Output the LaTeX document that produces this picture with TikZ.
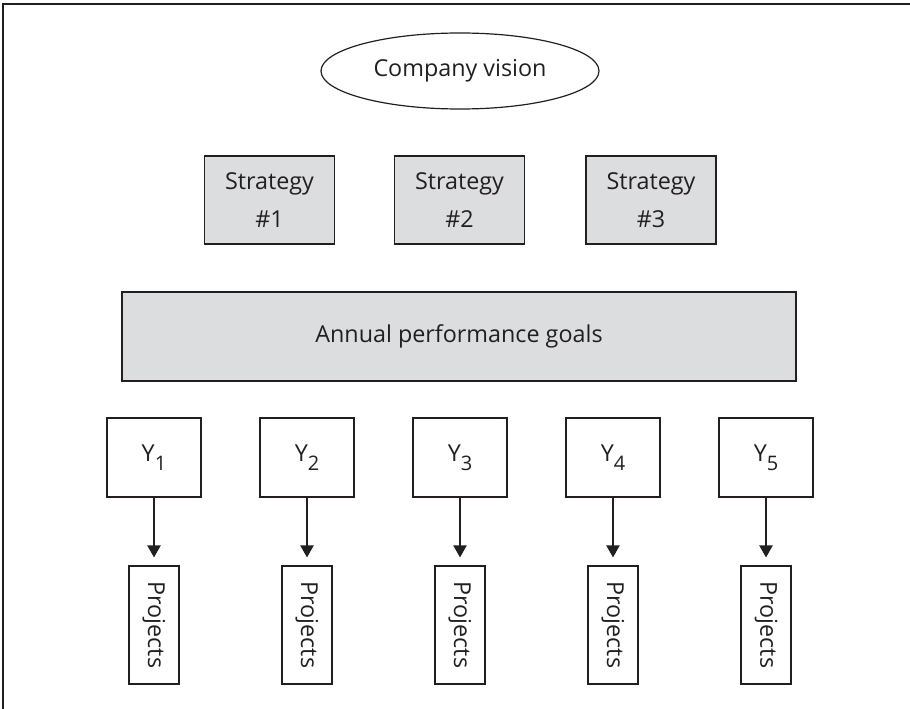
\documentclass[tikz,border=0pt]{standalone}
\usepackage{fontspec}
\setmainfont{Open Sans}
\usetikzlibrary{shapes.geometric,arrows.meta}
\definecolor{boxgray}{HTML}{DCDDDF}
\definecolor{ink}{HTML}{231F20}
\newcommand{\ysub}[1]{Y\raisebox{-6.5pt}{\fontsize{15}{16}\selectfont #1}}
\begin{document}
\begin{tikzpicture}[x=0.75pt,y=-0.75pt,
  font=\fontsize{17.5}{28}\selectfont, text=ink,
  base/.style={draw=ink, line width=0.9pt, inner sep=0pt, align=center},
  visionbox/.style={base, ellipse, minimum width=208.5pt, minimum height=57pt},
  stratbox/.style={base, fill=boxgray, minimum width=97.5pt, minimum height=66pt},
  goalbox/.style={base, fill=boxgray, minimum width=505.5pt, minimum height=66.75pt},
  ybox/.style={base, minimum width=70.5pt, minimum height=59.25pt},
  projbox/.style={base, rotate=-90, minimum width=88.5pt, minimum height=37.5pt},
  link/.style={draw=ink, line width=0.9pt, -{Triangle[width=10pt,length=9pt]}, shorten >=6pt}]
\useasboundingbox (0,0) rectangle (910,709);
% frame (open at right and bottom)
\coordinate (fa) at (910,4);
\coordinate (fb) at (3,4);
\coordinate (fc) at (3,709);
\draw[ink, line width=1.4pt] (fa) -- (fb) -- (fc);

\node[visionbox] (vision) at (460,71) {Company vision};

\node[stratbox] (s1) at (269.5,200) {Strategy\\\#1};
\node[stratbox] (s2) at (459.5,200) {Strategy\\\#2};
\node[stratbox] (s3) at (651,200) {Strategy\\\#3};

\node[goalbox] (goals) at (459,336.5) {Annual performance goals};

\foreach \i/\x in {1/154,2/307,3/460,4/613,5/766}{
  \node[ybox] (y\i) at (\x,457.5) {\ysub{\i}};
  \node[projbox] (p\i) at (\x,625) {Projects};
  \draw[link] (y\i.south) -- (p\i.west);
}
\end{tikzpicture}
\end{document}
